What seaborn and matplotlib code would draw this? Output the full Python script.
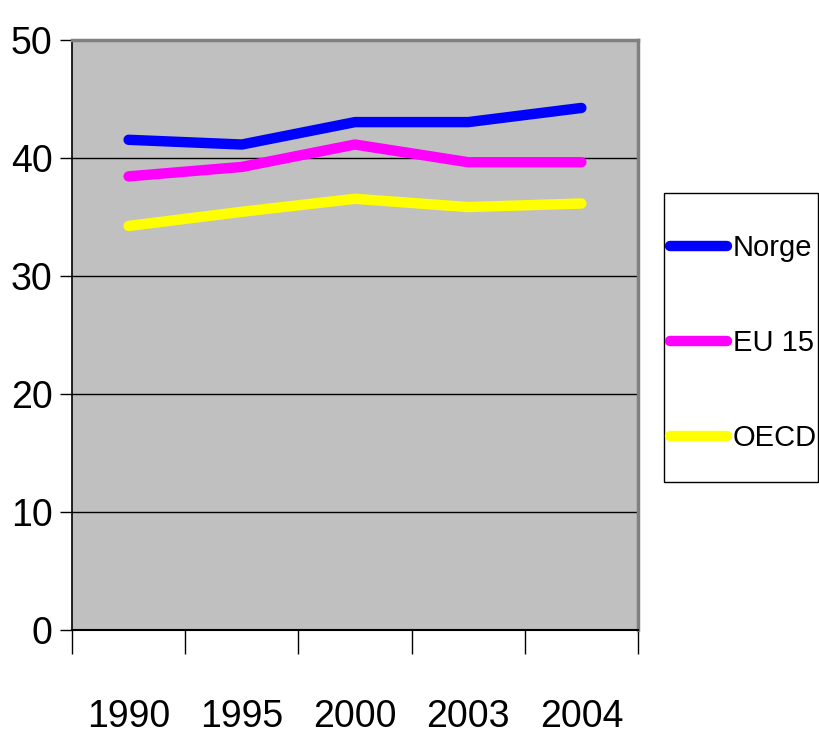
import matplotlib
matplotlib.use("Agg")
import matplotlib.pyplot as plt
import matplotlib.patches as mpatches
import seaborn as sns
import pandas as pd

years = ["1990", "1995", "2000", "2003", "2004"]
norge = [41.5, 41.1, 43.0, 43.0, 44.2]
eu15 = [38.4, 39.2, 41.1, 39.6, 39.6]
oecd = [34.2, 35.4, 36.5, 35.8, 36.1]
series_names = ["Norge", "EU 15", "OECD"]
colors = ["#0000FF", "#FF00FF", "#FFFF00"]
yticks = [0, 10, 20, 30, 40, 50]

df = pd.DataFrame({
    "year": years * 3,
    "value": norge + eu15 + oecd,
    "series": [s for s in series_names for _ in years],
})

sns.set_style("white")
FONT = ["Liberation Sans", "DejaVu Sans"]
plt.rcParams["font.family"] = FONT
plt.rcParams["text.color"] = "black"
plt.rcParams["xtick.color"] = "black"
plt.rcParams["ytick.color"] = "black"

W, H = 820, 738
fig = plt.figure(figsize=(W / 100, H / 100), dpi=100)
ax = fig.add_axes([72 / W, 1 - 629.5 / H, (638 - 72) / W, (629.5 - 39.5) / H])
ax.set_facecolor("#C0C0C0")

sns.lineplot(data=df, x="year", y="value", hue="series", hue_order=series_names,
             palette=colors, linewidth=7.5, sort=False, ax=ax, legend=False)
for ln in ax.lines:
    ln.set_solid_capstyle("round")
    ln.set_solid_joinstyle("round")

ax.set_xlim(-0.5, len(years) - 0.5)
ax.set_ylim(0, 50)
ax.set_yticks(yticks)
ax.set_yticklabels([str(t) for t in yticks], fontsize=27, color="black")
for t in yticks[1:-1]:
    ax.axhline(t, color="black", linewidth=1.0, zorder=1)

# category axis: tick marks between categories, labels at centres
ax.set_xticks([i - 0.5 for i in range(len(years) + 1)])
ax.set_xticklabels([])
ax.set_xticks(range(len(years)), minor=True)
ax.set_xticklabels(years, minor=True, fontsize=27, color="black")
ax.tick_params(axis="x", which="major", bottom=True, direction="out", length=17, width=1, color="black")
ax.tick_params(axis="x", which="minor", bottom=True, length=0, pad=50)
ax.tick_params(axis="y", left=True, direction="out", length=9, width=1, color="black", pad=5)

ax.set_xlabel("")
ax.set_ylabel("")

for side in ["top", "right"]:
    ax.spines[side].set_visible(True)
    ax.spines[side].set_color("#808080")
    ax.spines[side].set_linewidth(2.5)
ax.spines["left"].set_color("black")
ax.spines["left"].set_linewidth(1.2)
ax.spines["bottom"].set_color("black")
ax.spines["bottom"].set_linewidth(1.5)

# legend frame
box = mpatches.Rectangle((664 / W, 1 - 482 / H), (818 - 664) / W, (482 - 193) / H,
                         transform=fig.transFigure, facecolor="white",
                         edgecolor="black", linewidth=1.0, zorder=0)
fig.patches.append(box)

handles = [plt.Line2D([0], [0], color=c, linewidth=7.5, solid_capstyle="round") for c in colors]
leg = fig.legend(handles, series_names, loc="center left",
                 bbox_to_anchor=(670 / W, 1 - 343 / H),
                 fontsize=21, frameon=False,
                 handlelength=1.95, handletextpad=0.2,
                 labelspacing=2.3, borderpad=0.0, borderaxespad=0.0)
for txt in leg.get_texts():
    txt.set_color("black")

fig.savefig("out.png", dpi=100, facecolor="white")
